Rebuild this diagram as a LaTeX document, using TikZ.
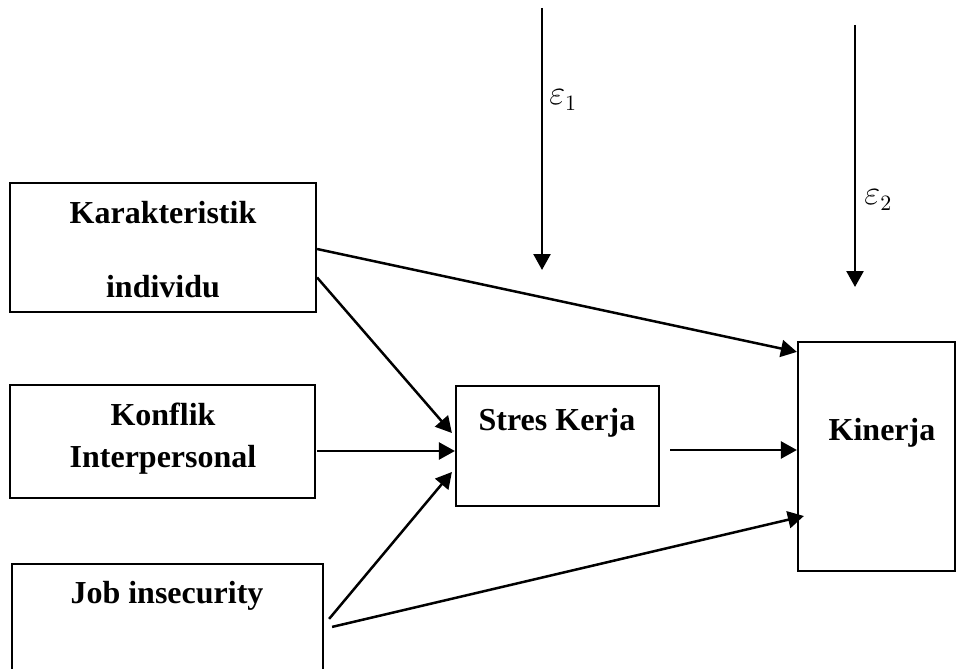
\documentclass[tikz,border=0pt]{standalone}
\usepackage{fontspec}
\setmainfont{Liberation Serif}
\usetikzlibrary{arrows.meta,calc,fit,positioning}

\begin{document}
\begin{tikzpicture}[x=0.5pt,y=-0.5pt,
    box/.style={draw,line width=1.1pt,inner sep=0pt},
    lbl/.style={font=\fontsize{16}{19}\selectfont\bfseries,anchor=base,inner sep=0pt},
    eps/.style={font=\fontsize{16}{19}\selectfont,anchor=base west,inner sep=0pt},
    arr/.style={-{Triangle[length=8pt,width=8.5pt]},line width=1.25pt}]
            \clip (0,0) rectangle (956,668);
            \node[box,fit={(10,183) (316,312)}] (K) {};
            \node[box,fit={(10,385) (315,498)}] (C) {};
            \node[box,fit={(12,564) (323,700)}] (J) {};
            \node[box,fit={(456,386) (659,506)}] (S) {};
            \node[box,fit={(798,342) (955,571)}] (P) {};
            \node[lbl] (Kt1) at (163,223) {Karakteristik};
            \node[lbl] (Kt2) at (163,297) {individu};
            \node[lbl] (Ct1) at (163,425) {Konflik};
            \node[lbl] (Ct2) at (163,467) {Interpersonal};
            \node[lbl] (Jt) at (167,603) {Job insecurity};
            \node[lbl] (St) at (557,430) {Stres Kerja};
            \node[lbl] (Pt) at (882,440) {Kinerja};
            \coordinate (E1a) at (542,8);
            \coordinate (E1b) at (542,270);
            \coordinate (E2a) at (855,25);
            \coordinate (E2b) at (855,287);
            \draw[arr] (E1a) -- (E1b);
            \draw[arr] (E2a) -- (E2b);
            \node[eps] (e1) at (549,105) {$\varepsilon_1$};
            \node[eps] (e2) at (864,205) {$\varepsilon_2$};
            \draw[arr] ($(K.east)+(0,1.5)$) -- ($(P.north west)+(0,11)$);
            \draw[arr] ($(K.east)+(0,30)$) -- ($(S.west)+(-3,-13)$);
            \draw[arr] ($(C.east)+(1,9.5)$) -- ($(S.west)+(0,5)$);
            \draw[arr] ($(J.north east)+(5,56)$) -- ($(S.west)+(-3,26)$);
            \draw[arr] ($(J.north east)+(8,64)$) -- ($(P.west)+(7,59.5)$);
            \draw[arr] ($(S.east)+(10,4)$) -- ($(P.west)+(0,-6.5)$);
        \end{tikzpicture}
\end{document}
